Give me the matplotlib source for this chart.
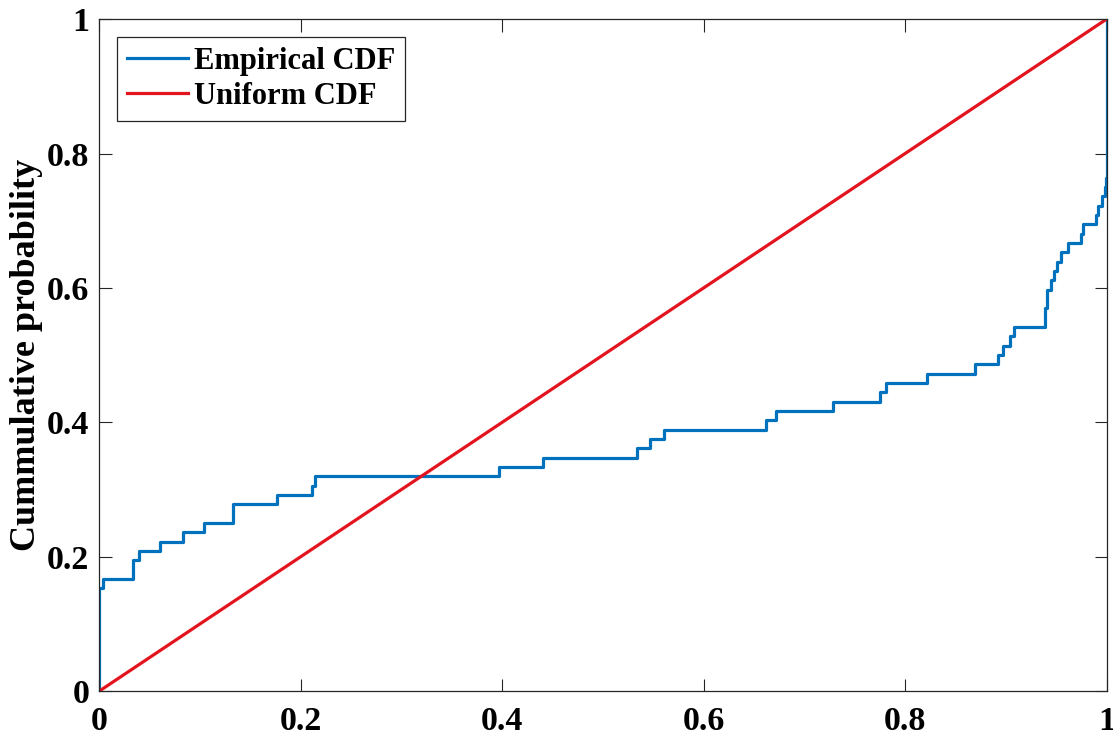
import matplotlib.pyplot as plt
import numpy as np

# sample values (72 points) read from the empirical CDF steps
sample_values = [0.0] * 11 + [0.004] + [0.033] * 2 + [0.039, 0.060, 0.083, 0.104] \
    + [0.133] * 2 + [0.176, 0.211, 0.214, 0.397, 0.441, 0.534, 0.547, 0.561,
                     0.662, 0.672, 0.728, 0.775, 0.781, 0.822, 0.869, 0.892,
                     0.897, 0.904, 0.908] \
    + [0.939] * 2 + [0.941] * 2 + [0.945, 0.948, 0.951, 0.955, 0.962,
                                   0.975, 0.977, 0.990, 0.992, 0.995, 0.998, 0.9995] \
    + [1.0] * 17

uniform_x = [0, 1]
uniform_y = [0, 1]

xticks = [0, 0.2, 0.4, 0.6, 0.8, 1]
yticks = [0, 0.2, 0.4, 0.6, 0.8, 1]
tick_labels = ['0', '0.2', '0.4', '0.6', '0.8', '1']

plt.rcParams['font.family'] = ['Liberation Serif', 'DejaVu Serif']
plt.rcParams['font.weight'] = 'bold'

# empirical CDF
xs = np.sort(np.array(sample_values))
n = len(xs)
ecdf_x = np.concatenate([[0.0], xs])
ecdf_y = np.concatenate([[0.0], np.arange(1, n + 1) / n])

fig = plt.figure(figsize=(11.13, 7.36), dpi=100)
ax = fig.add_axes([0.0892, 0.061, 0.9050, 0.913])

ax.plot(ecdf_x, ecdf_y, drawstyle='steps-post', color='#0072BD', linewidth=2.3,
        label='Empirical CDF')
ax.plot(uniform_x, uniform_y, color='#E3141E', linewidth=2.3, label='Uniform CDF')

ax.set_xlim(0, 1)
ax.set_ylim(0, 1)
ax.set_xticks(xticks)
ax.set_xticklabels(tick_labels)
ax.set_yticks(yticks)
ax.set_yticklabels(tick_labels)
ax.tick_params(direction='in', length=9, width=0.8, labelsize=24.5, colors='#262626',
               labelcolor='black', top=True, right=True)
ax.tick_params(axis='x', pad=10.5)
ax.tick_params(axis='y', pad=7)
for s in ax.spines.values():
    s.set_color('#262626')
    s.set_linewidth(0.9)

ax.set_ylabel('Cummulative probability', fontsize=26, fontweight='bold', labelpad=3)

leg = ax.legend(loc='upper left', bbox_to_anchor=(0.018, 0.973), fontsize=22,
                frameon=True, fancybox=False, handlelength=2.0, handletextpad=0.2,
                borderpad=0.32, labelspacing=0.2, borderaxespad=0)
leg.get_frame().set_edgecolor('#262626')
leg.get_frame().set_linewidth(0.9)
leg.get_frame().set_alpha(1)

plt.savefig('out.png', dpi=100)
